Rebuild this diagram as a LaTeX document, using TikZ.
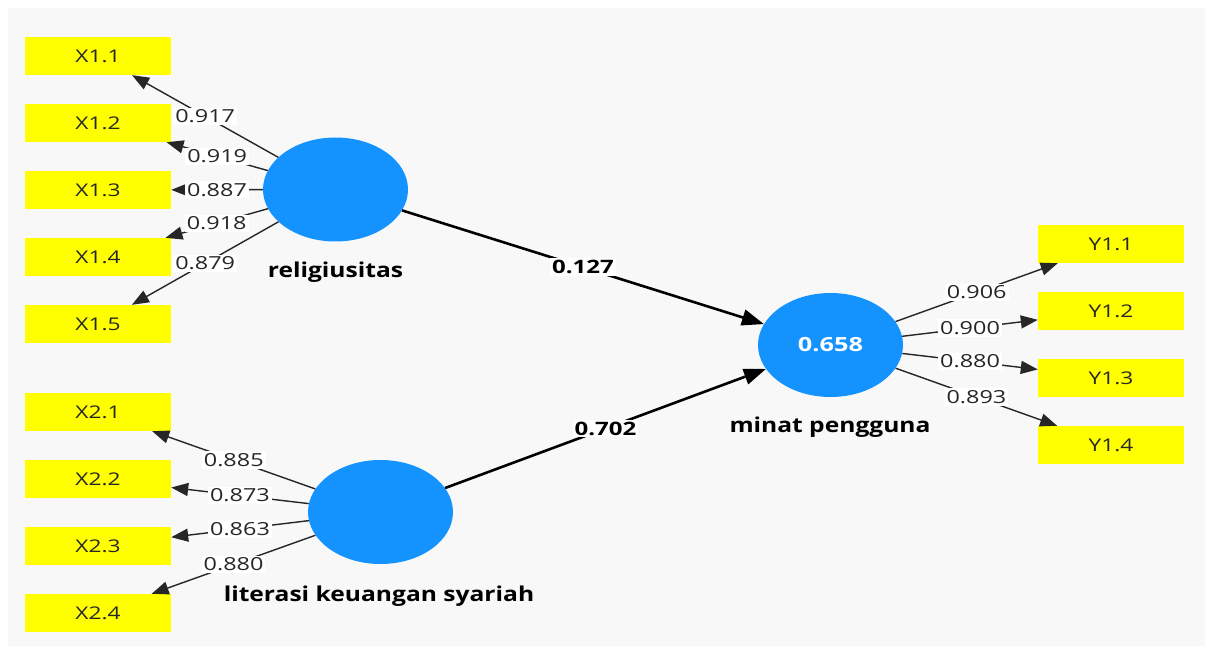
\documentclass[tikz,border=0pt]{standalone}
\usepackage{fontspec}
\setmainfont{Open Sans}[FakeStretch=1.3]
\newfontfamily\latfont{Open Sans}[FakeStretch=1.2]
\usetikzlibrary{arrows.meta,shapes.geometric}
\definecolor{bgc}{HTML}{F8F8F8}
\definecolor{lvc}{HTML}{1493FF}
\definecolor{indc}{HTML}{FFFF00}
\definecolor{txtc}{HTML}{262626}
\begin{document}
\begin{tikzpicture}[x=1pt,y=-1pt,
  indbox/.style={fill=indc, minimum width=146pt, minimum height=38pt, inner sep=0pt,
    font=\fontsize{17.5}{17.5}\selectfont, text=txtc},
  latent/.style={ellipse, fill=lvc, minimum width=145pt, minimum height=104pt, inner sep=0pt},
  latlabel/.style={anchor=base, font=\latfont\fontsize{20.5}{20.5}\selectfont\bfseries, text=black},
  loadarrow/.style={-{Triangle[length=17pt,width=13pt]}, line width=1.4pt, draw=txtc},
  structarrow/.style={-{Triangle[length=22pt,width=16pt]}, line width=2.6pt, draw=black},
  lw/.style={fill=white, inner sep=2pt, font=\fontsize{18}{18}\selectfont, text=txtc},
  sw/.style={fill=white, inner sep=2pt, font=\fontsize{18.5}{18.5}\selectfont\bfseries, text=black},
]
\useasboundingbox (0,0) rectangle (1213,655);
\fill[white] (0,0) rectangle (1213,655);
\fill[bgc] (8,8) rectangle (1205,646);

% latent variables
\node[latent] (rel) at (335.5,189.5) {};
\node[latent] (lit) at (380.5,512) {};
\node[latent] (min) at (830.5,345) {\textcolor{white}{\fontsize{19.5}{19.5}\selectfont\bfseries 0.658}};

\node[latlabel] (relL) at (335.5,277.5) {religiusitas};
\node[latlabel] (litL) at (379,601) {literasi keuangan syariah};
\node[latlabel] (minL) at (830,432) {minat pengguna};

% indicators
\node[indbox] (x11) at (98,56) {X1.1};
\node[indbox] (x12) at (98,123) {X1.2};
\node[indbox] (x13) at (98,190) {X1.3};
\node[indbox] (x14) at (98,257) {X1.4};
\node[indbox] (x15) at (98,324) {X1.5};

\node[indbox] (x21) at (98,412) {X2.1};
\node[indbox] (x22) at (98,479) {X2.2};
\node[indbox] (x23) at (98,546) {X2.3};
\node[indbox] (x24) at (98,613) {X2.4};

\node[indbox] (y11) at (1111,244) {Y1.1};
\node[indbox] (y12) at (1111,311) {Y1.2};
\node[indbox] (y13) at (1111,378) {Y1.3};
\node[indbox] (y14) at (1111,445) {Y1.4};

% loadings
\draw[loadarrow] (rel) -- node[lw] {0.917} (x11);
\draw[loadarrow] (rel) -- node[lw] {0.919} (x12);
\draw[loadarrow] (rel) -- node[lw] {0.887} (x13);
\draw[loadarrow] (rel) -- node[lw] {0.918} (x14);
\draw[loadarrow] (rel) -- node[lw] {0.879} (x15);

\draw[loadarrow] (lit) -- node[lw] {0.885} (x21);
\draw[loadarrow] (lit) -- node[lw] {0.873} (x22);
\draw[loadarrow] (lit) -- node[lw] {0.863} (x23);
\draw[loadarrow] (lit) -- node[lw] {0.880} (x24);

\draw[loadarrow] (min) -- node[lw] {0.906} (y11);
\draw[loadarrow] (min) -- node[lw] {0.900} (y12);
\draw[loadarrow] (min) -- node[lw] {0.880} (y13);
\draw[loadarrow] (min) -- node[lw] {0.893} (y14);

% structural paths
\draw[structarrow] (rel) -- node[sw] {0.127} (min);
\draw[structarrow] (lit) -- node[sw] {0.702} (min);
\end{tikzpicture}
\end{document}
